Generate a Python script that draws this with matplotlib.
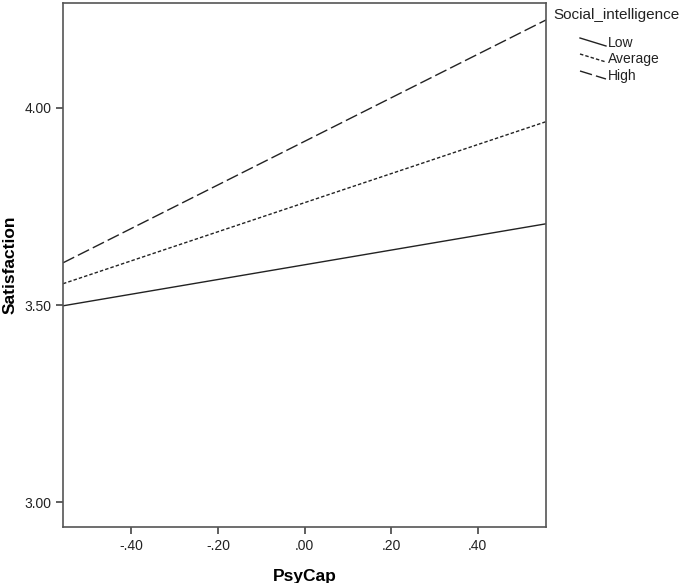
import matplotlib
matplotlib.use("Agg")
import matplotlib.pyplot as plt
from matplotlib.lines import Line2D

plt.rcParams['font.family'] = ['Liberation Sans', 'DejaVu Sans']

x_vals = [-0.558, 0.558]
groups = ["Low", "Average", "High"]
y_low = [3.498, 3.706]
y_avg = [3.554, 3.965]
y_high = [3.607, 4.223]
series = [y_low, y_avg, y_high]
xticks = [-0.4, -0.2, 0.0, 0.2, 0.4]
xtick_labels = ["-.40", "-.20", ".00", ".20", ".40"]
yticks = [3.0, 3.5, 4.0]
ytick_labels = ["3.00", "3.50", "4.00"]

W, H = 685, 583
fig = plt.figure(figsize=(W / 100, H / 100), dpi=100)
ax = fig.add_axes([63 / W, 56 / H, (546 - 63) / W, (527 - 3) / H])

lc = '#222222'
styles = ['-', (0, (2.5, 1.5)), (0, (9, 3))]
for ys, st, g in zip(series, styles, groups):
    ax.plot(x_vals, ys, color=lc, lw=1.0, linestyle=st, label=g)

ax.set_xlim(-0.558, 0.558)
ax.set_ylim(2.937, 4.266)
ax.set_xticks(xticks)
ax.set_xticklabels(xtick_labels)
ax.set_yticks(yticks)
ax.set_yticklabels(ytick_labels)
ax.tick_params(direction='out', length=5, width=1.2, colors='#444444', labelcolor='#222222', labelsize=10)
for s in ax.spines.values():
    s.set_color('#555555')
    s.set_linewidth(1.2)

ax.set_xlabel("PsyCap", fontsize=12.5, fontweight='bold', labelpad=12)
ax.set_ylabel("Satisfaction", fontsize=12.5, fontweight='bold')
ax.yaxis.set_label_coords(-(63 - 10) / (546 - 63), 0.5)
ax.yaxis.label.set_verticalalignment('center')

# legend (manual, SPSS style with diagonal handles)
def fx(px):
    return px / W

def fy(py):
    return 1 - py / H

fig.text(fx(553), fy(15), "Social_intelligence", fontsize=11, va='center', ha='left', color='#222222')
entry_y = [43, 59, 76]
for g, st, yy in zip(groups, styles, entry_y):
    fig.lines.append(Line2D([fx(580), fx(606)], [fy(yy - 5), fy(yy + 3)], transform=fig.transFigure,
                            color=lc, lw=1.0, linestyle=st))
    fig.text(fx(608), fy(yy), g, fontsize=10, va='center', ha='left', color='#222222')

fig.savefig("out.png", dpi=100)
